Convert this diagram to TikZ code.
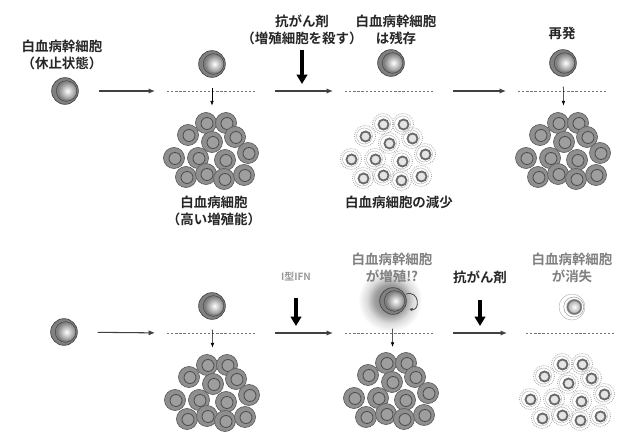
\documentclass[tikz,border=0pt]{standalone}
\usepackage{fontspec}
\newfontfamily\jp{Noto Sans CJK JP}[BoldFont={* Bold}]
\usetikzlibrary{arrows.meta,calc}

\pgfdeclareradialshading{glow}{\pgfpointorigin}{color(0bp)=(black!55); color(12bp)=(black!38); color(18bp)=(black!14); color(25bp)=(white); color(50bp)=(white)}

\newcommand\cellspots{-6/-27, 14/-27, -24/-15, 23/-13, 0/-8, -38/8, -14/8, 13/10, 36/3, -26/27, -6/24, 12/29, 32/25}

\tikzset{
  dcell/.pic = {
    \filldraw[fill=black!44, draw=black!62, line width=0.6pt] (0,0) circle (10.5);
    \filldraw[fill=black!38, draw=black!70, line width=0.7pt] (1,0.5) circle (6);
  },
  fcell/.pic = {
    \draw[black!35, densely dotted, line width=0.7pt] (0,0) circle (10.5);
    \draw[black!25, line width=0.5pt] (-0.5,0) circle (8);
    \filldraw[fill=black!10, draw=black!58, line width=1.6pt] (0.5,0.5) circle (5);
  },
}

\begin{document}
\begin{tikzpicture}[x=0.03cm, y=-0.03cm,
  txt/.style = {font=\jp\bfseries\fontsize{11.5}{15}\selectfont, align=center, inner sep=0pt, text=black!85},
  stem/.style = {circle, minimum size=0.8cm, inner sep=0pt, fill=black!50, draw=black!72, line width=0.6pt,
    path picture={
      \draw[black!75, line width=0.4pt] ([xshift=1.3pt]path picture bounding box.center) circle (0.31cm);
      \shade[inner color=white, outer color=black!45] ([xshift=2.2pt]path picture bounding box.center) circle (0.26cm);
    }},
  fstem/.style = {circle, minimum size=0.78cm, inner sep=0pt, draw=black!30, line width=0.4pt,
    path picture={
      \draw[black!35, line width=0.5pt] ([xshift=1.5pt]path picture bounding box.center) circle (0.3cm);
      \shade[inner color=white, outer color=black!40] ([xshift=2pt]path picture bounding box.center) circle (0.24cm);
      \draw[black!55, line width=1.1pt] ([xshift=2pt]path picture bounding box.center) circle (0.2cm);
    }},
  flow/.style = {-{Latex[length=5.5pt,width=4.5pt]}, line width=0.9pt, black!75, shorten <=0.6cm, shorten >=0.36cm},
  cut/.style = {black!55, line width=0.7pt, dash pattern=on 2pt off 1.5pt},
  drop/.style = {-{Latex[length=4pt,width=3pt]}, line width=0.5pt, shorten <=0.3cm, shorten >=1.33cm},
  drug/.style = {-{Triangle[length=8pt,width=9pt]}, line width=3.2pt}]

\useasboundingbox (0,0) rectangle (618,432);

% upper row
\node[txt] (l1) at (62,55) {白血病幹細胞\\（休止状態）};
\node[stem] (s1) at (65,91) {};

\node[stem] (s2) at (212,64) {};
\coordinate (d2a) at (167,91);
\coordinate (d2b) at (255,91);
\coordinate (p2) at (212,150);
\node[txt] (l2) at (214,211) {白血病細胞\\（高い増殖能）};

\node[txt] (l3) at (302,30) {抗がん剤\\（増殖細胞を殺す）};
\coordinate (k3) at (302,84);

\node[txt] (l4) at (396,30) {白血病幹細胞\\は残存};
\node[stem] (s3) at (391,63) {};
\coordinate (d3a) at (345,91);
\coordinate (d3b) at (433,91);
\coordinate (p3) at (389,151);
\node[txt] (l5) at (399,202) {白血病細胞の減少};

\node[txt] (l6) at (562,33) {再発};
\node[stem] (s4) at (563,63) {};
\coordinate (d4a) at (518,91);
\coordinate (d4b) at (607,91);
\coordinate (p4) at (564,150);

\draw[flow] (s1) -- (d2a);
\draw[flow] (d2b) -- (d3a);
\draw[flow] (d3b) -- (d4a);
\draw[cut] (d2a) -- (d2b);
\draw[cut] (d3a) -- (d3b);
\draw[cut] (d4a) -- (d4b);
\draw[drop] (s2) -- (p2);
\draw[drop] (s4) -- (p4);
\draw[drug, shorten <=4pt] (l3) -- (k3);

% lower row
\coordinate (g7) at (390,300);
\shade[shading=glow] (g7) circle (32);

\node[stem] (s5) at (64,332) {};

\node[stem] (s6) at (212,306) {};
\coordinate (d6a) at (167,333);
\coordinate (d6b) at (255,333);
\coordinate (p6) at (213,392);

\node[txt, font=\jp\bfseries\fontsize{8.5}{10}\selectfont, text=black!40] (l7) at (296,277) {I型IFN};
\coordinate (k7) at (296,326);

\node[txt, text=black!50] (l8) at (392,268) {白血病幹細胞\\が増殖!?};
\node[stem] (s7) at (393,301) {};
\draw[black!70, line width=0.7pt, -{Latex[length=3pt,width=3pt]}] (406,294) .. controls (420,290) and (420,311) .. (409,309);
\coordinate (d7a) at (345,333);
\coordinate (d7b) at (433,333);
\coordinate (p7) at (392,390);

\node[txt] (l9) at (480,277) {抗がん剤};
\coordinate (k9) at (480,326);

\node[txt, text=black!50] (l10) at (572,268) {白血病幹細胞\\が消失};
\node[fstem] (s8) at (572,307) {};
\coordinate (d8a) at (526,333);
\coordinate (d8b) at (615,333);
\coordinate (p8) at (568,391);

\draw[flow] (s5) -- (d6a);
\draw[flow] (d6b) -- (d7a);
\draw[flow, shorten >=0.57cm] (d7b) -- (d8a);
\draw[cut] (d6a) -- (d6b);
\draw[cut] (d7a) -- (d7b);
\draw[cut] (d8a) -- (d8b);
\draw[drop] (s6) -- (p6);
\draw[drop, shorten <=0.42cm, shorten >=1.29cm] (s7) -- (p7);
\draw[drug, shorten <=14pt] (l7) -- (k7);
\draw[drug, shorten <=14pt] (l9) -- (k9);

% cell clusters
\foreach \dx/\dy in \cellspots {
  \pic at ($(p2)+(\dx,\dy)$) {dcell};
  \pic at ($(p3)+(\dx,\dy)$) {fcell};
  \pic at ($(p4)+(\dx,\dy)$) {dcell};
  \pic at ($(p6)+(\dx,\dy)$) {dcell};
  \pic at ($(p7)+(\dx,\dy)$) {dcell};
  \pic at ($(p8)+(\dx,\dy)$) {fcell};
}

\end{tikzpicture}
\end{document}
